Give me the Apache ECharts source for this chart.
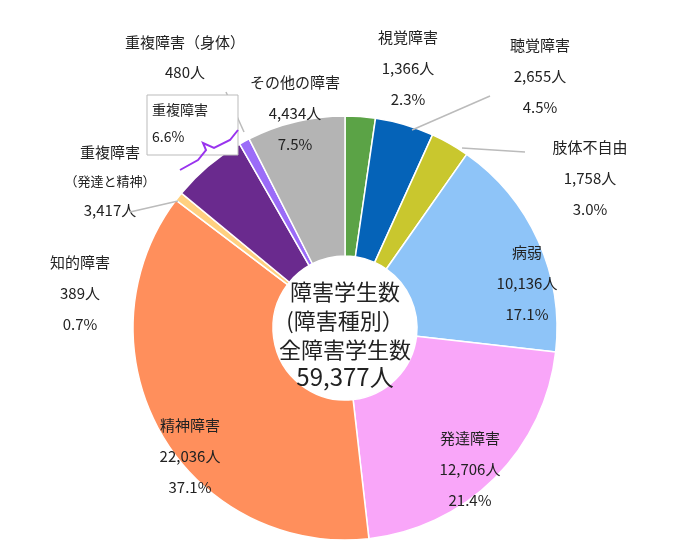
<!DOCTYPE html>
<html><head><meta charset="utf-8">
<script src="https://cdn.jsdelivr.net/npm/echarts@6/dist/echarts.min.js"></script>
<style>html,body{margin:0;padding:0;background:#fff}#c{width:675px;height:556px}</style>
</head><body><div id="c"></div>
<script>
const categories = ['視覚障害','聴覚障害','肢体不自由','病弱','発達障害','精神障害','知的障害','重複障害','重複障害（身体）','その他の障害'];
const values = [1366,2655,1758,10136,12706,22036,389,3417,480,4434];
const percents = ['2.3%','4.5%','3.0%','17.1%','21.4%','37.1%','0.7%','','','7.5%'];
const colors = ['#5BA346','#0563B8','#C9C72E','#8EC4F8','#F9A6F9','#FF8F5C','#FFD080','#6A2A8E','#9B6CF8','#B4B4B4'];
const F = '"Noto Sans CJK JP", sans-serif';
const fmt = v => v.toLocaleString('en-US') + '人';
const labelPos = [[408,37],[540,45],[590,147],[527,252],[470,438],[190,425],[80,262],[110,152],[185,42],[295,82]];
const g = [];
function T(x,y,s,size){g.push({type:'text',z:100,x:x,y:y,style:{text:s,font:(size||15)+'px '+F,fill:'#222',align:'center',verticalAlign:'middle'}});}
categories.forEach((c,i)=>{
  const [x,y]=labelPos[i];
  if(i===7){T(x,y,'重複障害');T(x,y+29,'（発達と精神）',13);T(x,y+58,fmt(values[i]));return;}
  if(i===8){T(x,y,c);T(x,y+30,fmt(values[i]));return;}
  T(x,y,c);T(x,y+31,fmt(values[i]));T(x,y+62,percents[i]);
});
function L(p){g.push({type:'polyline',z:100,shape:{points:p},style:{stroke:'#bbb',lineWidth:1.5,fill:null}});}
L([[490,96],[412,130]]);L([[525,152],[462,148]]);L([[130,212],[178,201]]);L([[226,92],[244,132]]);
g.push({type:'rect',z:100,shape:{x:147,y:95,width:91,height:60},style:{fill:'#fff',stroke:'#bbb',lineWidth:1}});
g.push({type:'text',z:101,x:152,y:110,style:{text:'重複障害',font:'14px '+F,fill:'#222',verticalAlign:'middle'}});
g.push({type:'text',z:101,x:152,y:137,style:{text:'6.6%',font:'14px '+F,fill:'#222',verticalAlign:'middle'}});
g.push({type:'polyline',z:102,shape:{points:[[180,170],[198,160],[206,150],[203,143],[214,148],[230,140],[238,130]]},style:{stroke:'#9933EE',lineWidth:2,fill:null}});
['障害学生数','(障害種別）','全障害学生数'].forEach((s,i)=>T(345,292+i*29,s,22));
T(345,377,'59,377人',24);
const chart = echarts.init(document.getElementById('c'));
chart.setOption({
  animation:false,
  series:[{type:'pie',center:[345,328],radius:[72,212],startAngle:90,clockwise:true,
    label:{show:false},labelLine:{show:false},
    itemStyle:{borderColor:'#fff',borderWidth:1.5},
    data:categories.map((c,i)=>({name:c,value:values[i],itemStyle:{color:colors[i]}}))}],
  graphic:g
});
</script></body></html>
